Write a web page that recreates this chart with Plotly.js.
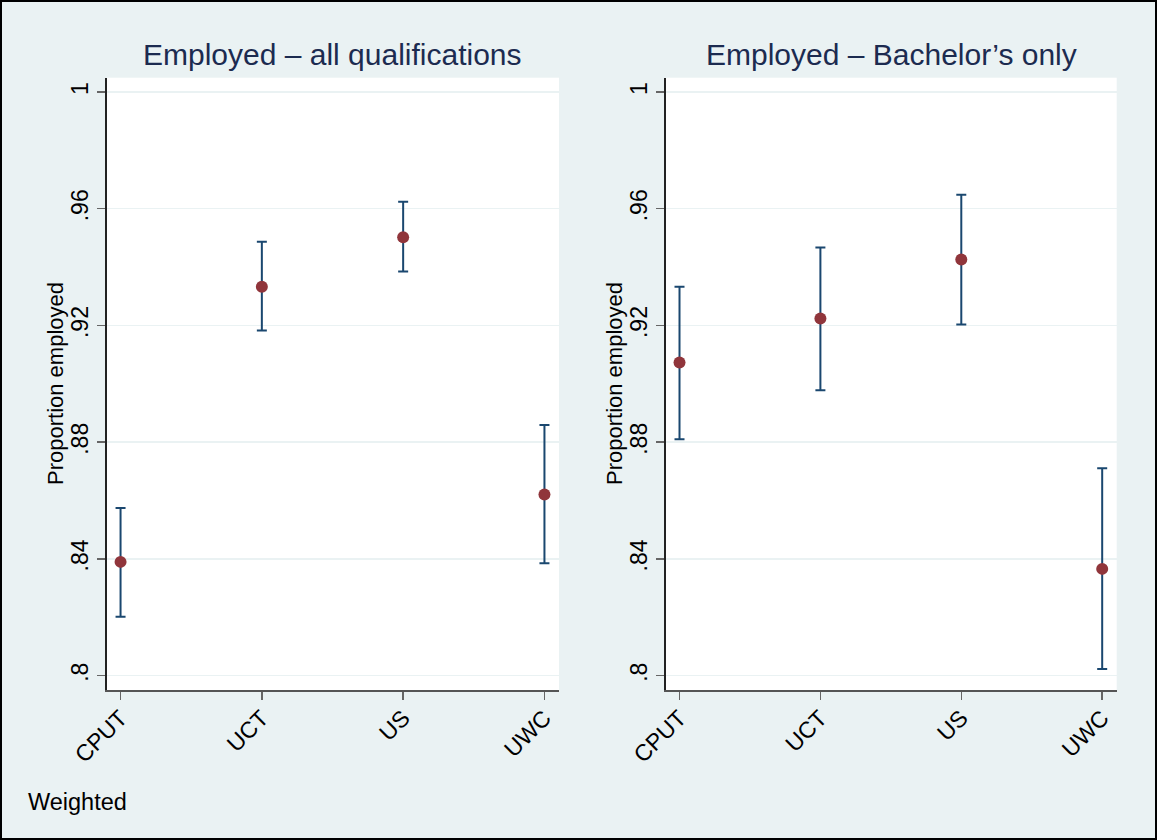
<!DOCTYPE html>
<html>
<head>
<meta charset="utf-8">
<script src="https://cdn.plot.ly/plotly-3.0.1.min.js"></script>
<style>
  html, body { margin: 0; padding: 0; background: #EAF2F3; }
  #chart { width: 1157px; height: 840px; }
</style>
</head>
<body>
<div id="chart"></div>
<script>
// Data
const categories = ["CPUT", "UCT", "US", "UWC"];

const allQualEstimate = [0.8390, 0.9333, 0.9502, 0.8621];
const allQualUpper    = [0.8575, 0.9487, 0.9624, 0.8859];
const allQualLower    = [0.8202, 0.9183, 0.9385, 0.8385];

const bachEstimate = [0.9073, 0.9224, 0.9426, 0.8366];
const bachUpper    = [0.9333, 0.9467, 0.9648, 0.8711];
const bachLower    = [0.8810, 0.8978, 0.9203, 0.8023];

const yTickVals   = [0.8, 0.84, 0.88, 0.92, 0.96, 1];
const yTickLabels = [".8", ".84", ".88", ".92", ".96", "1"];

const panelTitles = ["Employed \u2013 all qualifications", "Employed \u2013 Bachelor\u2019s only"];
const yTitle = "Proportion employed";
const noteText = "Weighted";

const BG = "#EAF2F3";
const NAVY = "#1A476F";
const MAROON = "#90353B";
const TITLE_COLOR = "#1C2B50";
const FONT = "Liberation Sans, Arial, Helvetica, sans-serif";

function diff(a, b) { return a.map((v, i) => v - b[i]); }

function makeTrace(est, up, lo, xa, ya) {
  return {
    type: "scatter",
    mode: "markers",
    x: categories,
    y: est,
    xaxis: xa,
    yaxis: ya,
    marker: { color: MAROON, size: 12 },
    error_y: {
      type: "data",
      symmetric: false,
      array: diff(up, est),
      arrayminus: diff(est, lo),
      color: NAVY,
      thickness: 2,
      width: 5
    },
    hoverinfo: "x+y",
    showlegend: false
  };
}

const data = [
  makeTrace(allQualEstimate, allQualUpper, allQualLower, "x", "y"),
  makeTrace(bachEstimate, bachUpper, bachLower, "x2", "y2")
];

const yRange = [0.7951, 1.0049];
const xRange = [-0.098, 3.103];

function xAxis(domain, anchor) {
  return {
    domain: domain,
    anchor: anchor,
    type: "category",
    range: xRange,
    showgrid: false,
    zeroline: false,
    showline: true,
    linecolor: "#555555",
    linewidth: 1.5,
    ticks: "outside",
    ticklen: 8,
    tickwidth: 1.5,
    tickcolor: "#666666",
    tickangle: -45,
    ticklabelstandoff: -4,
    tickfont: { family: FONT, size: 23, color: "#000000" },
    fixedrange: true
  };
}

function yAxis(domain, anchor) {
  return {
    domain: domain,
    anchor: anchor,
    range: yRange,
    tickvals: yTickVals,
    ticktext: yTickLabels,
    showgrid: true,
    gridcolor: BG,
    gridwidth: 1.5,
    zeroline: false,
    showline: true,
    linecolor: "#222222",
    linewidth: 1.5,
    ticks: "outside",
    ticklen: 8,
    tickwidth: 1.5,
    tickcolor: "#666666",
    tickangle: -90,
    tickfont: { family: FONT, size: 23, color: "#000000" },
    fixedrange: true
  };
}

const W = 1157, H = 840;
const yDom = [1 - 690 / H, 1 - 77.7 / H];
const x1Dom = [106.7 / W, 559 / W];
const x2Dom = [665.7 / W, 1116.7 / W];

const layout = {
  width: W,
  height: H,
  margin: { l: 0, r: 0, t: 0, b: 0, pad: 0 },
  paper_bgcolor: BG,
  plot_bgcolor: "#FFFFFF",
  font: { family: FONT, color: "#000000" },
  showlegend: false,
  xaxis: xAxis(x1Dom, "y"),
  yaxis: yAxis(yDom, "x"),
  xaxis2: xAxis(x2Dom, "y2"),
  yaxis2: yAxis(yDom, "x2"),
  annotations: [
    { text: panelTitles[0], xref: "paper", yref: "paper",
      x: (x1Dom[0] + x1Dom[1]) / 2, y: 1 - 55 / H, xanchor: "center", yanchor: "middle",
      showarrow: false, font: { family: FONT, size: 30, color: TITLE_COLOR } },
    { text: panelTitles[1], xref: "paper", yref: "paper",
      x: (x2Dom[0] + x2Dom[1]) / 2, y: 1 - 55 / H, xanchor: "center", yanchor: "middle",
      showarrow: false, font: { family: FONT, size: 30, color: TITLE_COLOR } },
    { text: yTitle, xref: "paper", yref: "paper",
      x: 56 / W, y: 1 - 384 / H, xanchor: "center", yanchor: "middle", textangle: -90,
      showarrow: false, font: { family: FONT, size: 22, color: "#000000" } },
    { text: yTitle, xref: "paper", yref: "paper",
      x: 615 / W, y: 1 - 384 / H, xanchor: "center", yanchor: "middle", textangle: -90,
      showarrow: false, font: { family: FONT, size: 22, color: "#000000" } },
    { text: noteText, xref: "paper", yref: "paper",
      x: 26 / W, y: 1 - 802 / H, xanchor: "left", yanchor: "middle",
      showarrow: false, font: { family: FONT, size: 23.5, color: "#000000" } }
  ],
  shapes: [
    { type: "rect", xref: "paper", yref: "paper", x0: 0, x1: 1, y0: 0, y1: 1,
      line: { color: "#000000", width: 4 }, fillcolor: "rgba(0,0,0,0)", layer: "above" }
  ]
};

Plotly.newPlot("chart", data, layout, { displayModeBar: false, staticPlot: true });
</script>
</body>
</html>
